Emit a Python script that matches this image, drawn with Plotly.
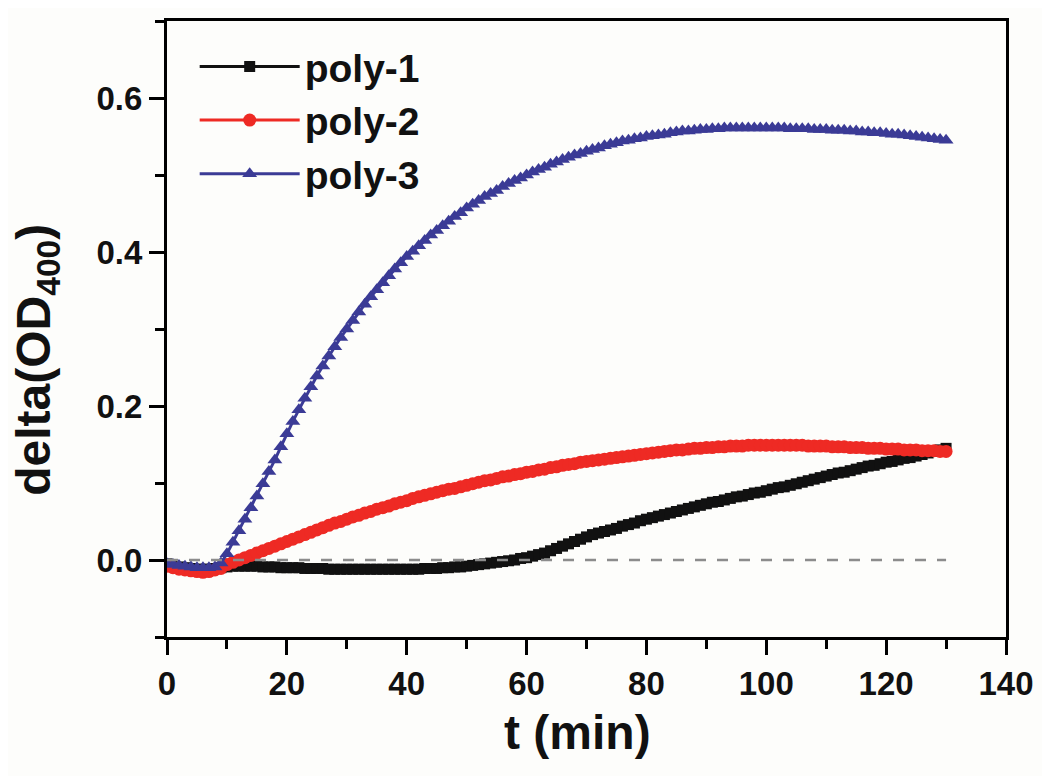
import plotly.graph_objects as go

# time (min)
t = list(range(0, 131))

poly1 = [
    -0.005, -0.007, -0.009, -0.010, -0.011, -0.012, -0.012, -0.012, -0.011, -0.010,
    -0.009, -0.008, -0.008, -0.008, -0.008, -0.008, -0.009, -0.009, -0.009, -0.010,
    -0.010, -0.010, -0.010, -0.011, -0.011, -0.011, -0.011, -0.012, -0.012, -0.012,
    -0.012, -0.012, -0.012, -0.012, -0.012, -0.012, -0.012, -0.012, -0.012, -0.012,
    -0.012, -0.012, -0.012, -0.011, -0.011, -0.011, -0.010, -0.010, -0.009, -0.009,
    -0.008, -0.007, -0.006, -0.005, -0.004, -0.003, -0.002, -0.001, 0.000, 0.002,
    0.003, 0.005, 0.007, 0.009, 0.012, 0.015, 0.018, 0.021, 0.024, 0.027,
    0.030, 0.033, 0.035, 0.037, 0.039, 0.041, 0.044, 0.046, 0.048, 0.051,
    0.053, 0.055, 0.057, 0.059, 0.061, 0.063, 0.065, 0.067, 0.069, 0.071,
    0.073, 0.075, 0.076, 0.078, 0.080, 0.082, 0.083, 0.085, 0.087, 0.088,
    0.090, 0.092, 0.094, 0.095, 0.097, 0.099, 0.101, 0.103, 0.105, 0.107,
    0.109, 0.111, 0.113, 0.114, 0.116, 0.118, 0.120, 0.122, 0.123, 0.125,
    0.127, 0.128, 0.130, 0.132, 0.133, 0.135, 0.137, 0.139, 0.141, 0.143,
    0.145,
]

poly2 = [
    -0.008, -0.010, -0.012, -0.013, -0.014, -0.015, -0.016, -0.015, -0.013, -0.011,
    -0.006, -0.003, 0.000, 0.003, 0.006, 0.009, 0.012, 0.015, 0.018, 0.021,
    0.024, 0.027, 0.030, 0.033, 0.036, 0.039, 0.042, 0.045, 0.048, 0.050,
    0.053, 0.056, 0.058, 0.061, 0.063, 0.066, 0.068, 0.070, 0.073, 0.075,
    0.077, 0.080, 0.082, 0.084, 0.086, 0.088, 0.090, 0.092, 0.093, 0.095,
    0.097, 0.099, 0.101, 0.103, 0.104, 0.106, 0.108, 0.109, 0.111, 0.112,
    0.114, 0.115, 0.117, 0.118, 0.120, 0.121, 0.123, 0.124, 0.125, 0.127,
    0.128, 0.129, 0.130, 0.131, 0.132, 0.133, 0.134, 0.135, 0.136, 0.137,
    0.138, 0.139, 0.140, 0.141, 0.142, 0.143, 0.143, 0.144, 0.145, 0.145,
    0.146, 0.146, 0.147, 0.147, 0.148, 0.148, 0.148, 0.149, 0.149, 0.149,
    0.149, 0.149, 0.149, 0.149, 0.149, 0.149, 0.149, 0.148, 0.148, 0.148,
    0.148, 0.147, 0.147, 0.147, 0.146, 0.146, 0.146, 0.145, 0.145, 0.145,
    0.144, 0.144, 0.144, 0.143, 0.143, 0.143, 0.142, 0.142, 0.142, 0.141,
    0.141,
]

poly3 = [
    -0.005, -0.006, -0.007, -0.008, -0.009, -0.010, -0.010, -0.010, -0.009, -0.004,
    0.008, 0.023, 0.038, 0.053, 0.068, 0.083, 0.099, 0.115, 0.130, 0.147,
    0.164, 0.180, 0.195, 0.210, 0.225, 0.239, 0.252, 0.265, 0.277, 0.289,
    0.300, 0.311, 0.322, 0.332, 0.342, 0.351, 0.360, 0.369, 0.378, 0.386,
    0.394, 0.401, 0.408, 0.415, 0.422, 0.428, 0.434, 0.440, 0.446, 0.451,
    0.457, 0.462, 0.467, 0.472, 0.476, 0.480, 0.485, 0.489, 0.493, 0.496,
    0.500, 0.504, 0.507, 0.510, 0.514, 0.517, 0.520, 0.523, 0.526, 0.528,
    0.531, 0.533, 0.535, 0.538, 0.540, 0.542, 0.544, 0.545, 0.547, 0.548,
    0.550, 0.551, 0.552, 0.553, 0.555, 0.556, 0.557, 0.557, 0.558, 0.559,
    0.559, 0.560, 0.560, 0.561, 0.561, 0.561, 0.561, 0.561, 0.561, 0.561,
    0.561, 0.561, 0.561, 0.561, 0.560, 0.560, 0.560, 0.560, 0.559, 0.559,
    0.559, 0.558, 0.558, 0.558, 0.557, 0.557, 0.556, 0.556, 0.555, 0.555,
    0.554, 0.553, 0.553, 0.552, 0.551, 0.550, 0.549, 0.548, 0.547, 0.546,
    0.545,
]

series_names = ["poly-1", "poly-2", "poly-3"]
x_ticks = [0, 20, 40, 60, 80, 100, 120, 140]
y_ticks = [0.0, 0.2, 0.4, 0.6]
y_tick_labels = ["0.0", "0.2", "0.4", "0.6"]
x_title = "t (min)"
y_title = "delta(OD<sub>400</sub>)"

FONT = "Liberation Sans"
BLACK = "#111111"
RED = "#ee2a24"
BLUE = "#3b3b96"
TXT = "#111111"

fig = go.Figure()

fig.add_trace(go.Scatter(
    x=t, y=poly1, name=series_names[0], mode="lines+markers",
    line=dict(color=BLACK, width=3),
    marker=dict(symbol="square", size=11, color=BLACK),
))
fig.add_trace(go.Scatter(
    x=t, y=poly2, name=series_names[1], mode="lines+markers",
    line=dict(color=RED, width=3),
    marker=dict(symbol="circle", size=13, color=RED),
))
fig.add_trace(go.Scatter(
    x=t, y=poly3, name=series_names[2], mode="lines+markers",
    line=dict(color=BLUE, width=3),
    marker=dict(symbol="triangle-up", size=13, color=BLUE),
))
# zero reference line
fig.add_trace(go.Scatter(
    x=[t[0], t[-1]], y=[0, 0], mode="lines", showlegend=False,
    line=dict(color="#8c8c8c", width=2.5, dash="11px,11px"),
    hoverinfo="skip",
))

axis_common = dict(
    showline=True, linecolor="#000000", linewidth=3, mirror=True,
    showgrid=False, zeroline=False,
    ticks="outside", ticklen=15, tickwidth=3, tickcolor="#000000",
    tickfont=dict(family=FONT, size=33, color=TXT, weight="bold"),
)

fig.update_xaxes(
    range=[0, 140], tickvals=x_ticks,
    minor=dict(ticks="outside", dtick=10, ticklen=9, tickwidth=3, tickcolor="#000000"),
    **axis_common,
)
fig.update_yaxes(
    range=[-0.1, 0.7], tickvals=y_ticks, ticktext=y_tick_labels,
    minor=dict(ticks="outside", dtick=0.1, tick0=0, ticklen=9, tickwidth=3, tickcolor="#000000"),
    **axis_common,
)

title_font = dict(family=FONT, size=48, color=TXT, weight="bold")
fig.add_annotation(
    text=x_title, xref="paper", yref="paper", x=0.489, y=-0.108,
    xanchor="center", yanchor="top", showarrow=False, font=title_font,
)
fig.add_annotation(
    text=y_title, xref="paper", yref="paper", x=-0.155, y=0.45,
    xanchor="center", yanchor="middle", textangle=-90, showarrow=False,
    font=title_font,
)

fig.update_layout(
    width=1050, height=776,
    margin=dict(l=159, r=52, t=10, b=147),
    paper_bgcolor="#fdfdfb", plot_bgcolor="#fdfdfb",
    showlegend=True,
    legend=dict(
        x=0.033, y=0.978, xanchor="left", yanchor="top",
        bgcolor="rgba(0,0,0,0)",
        font=dict(family=FONT, size=39, color=TXT, weight="bold"),
        itemwidth=100, tracegroupgap=0,
    ),
)

fig.write_html("out.html")
